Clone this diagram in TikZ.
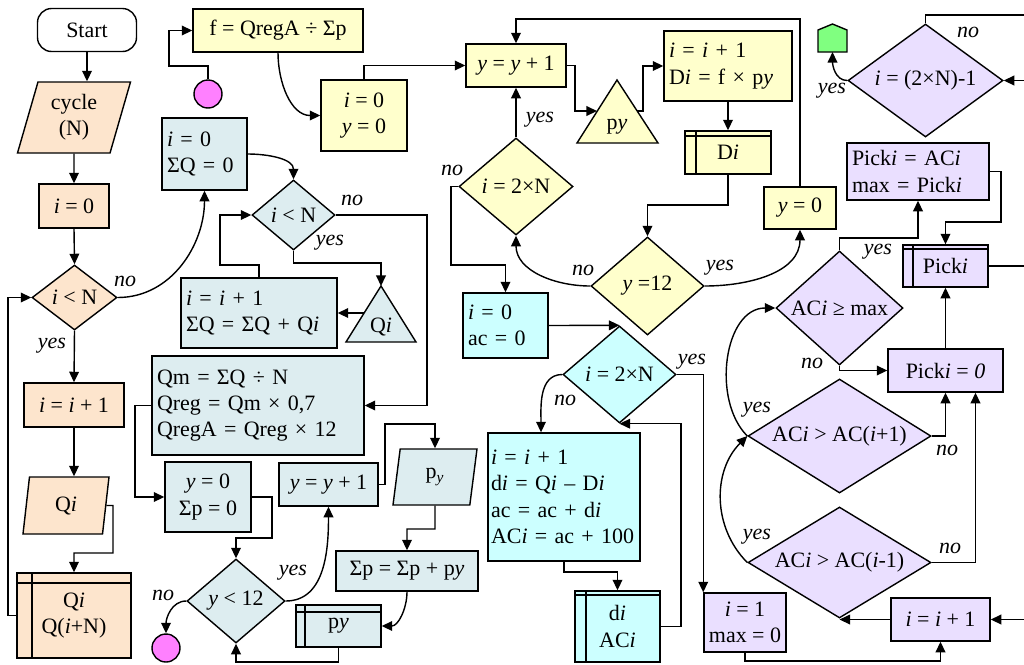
\documentclass[tikz,border=0pt]{standalone}
\usepackage{fontspec}
\setmainfont{Liberation Serif}
\usetikzlibrary{shapes.geometric,arrows.meta}
\definecolor{peach}{HTML}{FDE5CD}
\definecolor{bgray}{HTML}{DDEDF0}
\definecolor{ylw}{HTML}{FFFFCC}
\definecolor{cyn}{HTML}{CCFFFF}
\definecolor{lav}{HTML}{EADFFF}
\definecolor{pnk}{HTML}{FF80FF}
\definecolor{grn}{HTML}{80FF80}
\tikzset{
  blk/.style={draw, line width=0.8pt, inner sep=0.1cm, align=center, font={\fontsize{12.5}{15}\selectfont}},
  wh/.style 2 args={minimum width=#1*0.02cm, minimum height=#2*0.02cm},
  tw/.style={text width=#1*0.02cm, align=left},
  dec/.style={blk, diamond, aspect=1.5, inner sep=0pt},
  io/.style 2 args={blk, trapezium, trapezium left angle=#1, trapezium right angle=#2, trapezium stretches body},
  store/.style 2 args={blk, path picture={\draw[line width=0.8pt]
    ([xshift=#1]path picture bounding box.north west) -- ([xshift=#1]path picture bounding box.south west)
    ([yshift=-#2]path picture bounding box.north west) -- ([yshift=-#2]path picture bounding box.north east);}},
  stop/.style={circle, draw, fill=pnk, minimum size=0.56cm, inner sep=0pt, line width=0.8pt},
  arr/.style={-{Triangle[length=6pt,width=5.5pt]}, line width=0.8pt},
  lab/.style={inner sep=0pt, font={\fontsize{12.5}{15}\selectfont\itshape}}
}
\begin{document}
\begin{tikzpicture}[x=0.02cm, y=-0.02cm, line width=0.8pt]
\useasboundingbox (0,0) rectangle (1024,664);

\node[blk, rounded corners=8pt, wh={99}{43}] (start) at (87,30) {Start};
\node[io={70}{110}, fill=peach, wh={113}{71}] (cyc) at (74,117.5) {cycle\\(N)};
\node[blk, fill=peach, wh={70}{44}] (oi0) at (74,206) {\textit{i} = 0};
\node[dec, fill=peach, wh={85}{65}] (od) at (74.5,297.5) {\textit{i} < N};
\node[blk, fill=peach, wh={100}{44}] (oinc) at (74,405) {\textit{i} = \textit{i} + 1};
\node[io={77}{103}, fill=peach, wh={86}{57}] (oqi) at (66,505.5) {Q\textit{i}};
\node[store={0.3cm}{0.2cm}, fill=peach, wh={114}{85}] (ostore) at (74,615.5) {Q\textit{i}\\Q(\textit{i}+N)};

\node[blk, fill=bgray, wh={85}{72}, tw=75] (bi0) at (204.5,154) {\textit{i} = 0\\ΣQ = 0};
\node[dec, fill=bgray, wh={83}{70}] (bd) at (293.5,215) {\textit{i} < N};
\node[blk, fill=bgray, wh={156}{70}, tw=146] (binc) at (259,313) {\textit{i} = \textit{i} + 1\\ΣQ = ΣQ + Q\textit{i}};
\filldraw[fill=bgray] (381,286) coordinate (btop) -- (416,342) -- (346,342) -- cycle;
\coordinate (bleft) at (364,313);
\node[lab, font={\fontsize{12.5}{15}\selectfont}] (btxt) at (381,327) {Q\textit{i}};
\node[blk, fill=bgray, wh={212}{99}, tw=202] (bqm) at (258,405.5) {Qm = ΣQ ÷ N\\Qreg = Qm × 0,7\\QregA = Qreg × 12};
\node[blk, fill=bgray, wh={86}{70}] (by0) at (208,497) {\textit{y} = 0\\Σp = 0};
\node[dec, fill=bgray, wh={98}{84}] (bd2) at (236,601) {\textit{y} < 12};
\node[stop] (bend) at (166,648) {};
\node[blk, fill=bgray, wh={99}{43}] (byinc) at (328.5,484.5) {\textit{y} = \textit{y} + 1};
\node[io={75}{105}, fill=bgray, wh={84}{56}] (bpy) at (435,477) {p\textsubscript{\textit{y}}};
\node[blk, fill=bgray, wh={142}{40}] (bsum) at (407,571) {Σp = Σp + p\textit{y}};
\node[store={0.18cm}{0.14cm}, fill=bgray, wh={85}{42}] (bpys) at (338.5,626) {p\textit{y}};

\node[stop] (ybeg) at (208,94) {};
\node[blk, fill=ylw, wh={170}{43}] (yf) at (278,30.5) {f = QregA ÷ Σp};
\node[blk, fill=ylw, wh={86}{71}] (yi0) at (364,115.5) {\textit{i} = 0\\\textit{y} = 0};
\node[blk, fill=ylw, wh={100}{43}] (yyinc) at (516,65.5) {\textit{y} = \textit{y} + 1};
\filldraw[fill=ylw] (617,80) -- (658,143) -- (577,143) -- cycle;
\coordinate (ytl) at (597,111);
\coordinate (ytr) at (637,111);
\node[lab, font={\fontsize{12.5}{15}\selectfont}] (ytxt) at (617,127) {p\textit{y}};
\node[blk, fill=ylw, wh={128}{70}, tw=118] (yinc) at (728,66) {\textit{i} = \textit{i} + 1\\D\textit{i} = f × p\textit{y}};
\node[store={0.22cm}{0.1cm}, fill=ylw, wh={86}{43}] (yds) at (728,152.5) {D\textit{i}};
\node[dec, fill=ylw, wh={113}{98}] (yd12) at (647.5,286) {\textit{y} =12};
\node[blk, fill=ylw, wh={72}{42}] (yy0) at (800,208) {\textit{y} = 0};
\node[dec, fill=ylw, wh={114}{97}] (yd2n) at (516,186.5) {\textit{i} = 2×N};

\node[blk, fill=cyn, wh={85}{65}, tw=75] (ci0) at (505.5,325.5) {\textit{i} = 0\\ac = 0};
\node[dec, fill=cyn, wh={113}{97}] (cd) at (619.5,374.5) {\textit{i} = 2×N};
\node[blk, fill=cyn, inner xsep=0.06cm, wh={152}{128}, tw=146] (cinc) at (564,497) {\textit{i} = \textit{i} + 1\\d\textit{i} = Q\textit{i} – D\textit{i}\\ac = ac + d\textit{i}\\AC\textit{i} = ac + 100};
\node[store={0.22cm}{0.08cm}, fill=cyn, wh={85}{71}] (cst) at (617.5,626.5) {d\textit{i}\\AC\textit{i}};

\node[blk, fill=lav, wh={80}{59}] (li1) at (745,622.5) {\textit{i} = 1\\max = 0};
\node[blk, fill=lav, wh={99}{43}] (linc) at (940.5,619.5) {\textit{i} = \textit{i} + 1};
\node[dec, fill=lav, wh={183}{111}] (ld1) at (839.5,562.5) {AC\textit{i} > AC(\textit{i}-1)};
\node[dec, fill=lav, wh={183}{114}] (ld2) at (839.5,436) {AC\textit{i} > AC(\textit{i}+1)};
\node[blk, fill=lav, wh={115}{43}] (lp0) at (945.5,370.5) {Pick\textit{i} = \textit{0}};
\node[dec, fill=lav, wh={127}{114}] (ld3) at (839.5,308) {AC\textit{i} ≥ max};
\node[store={0.2cm}{0.08cm}, fill=lav, wh={85}{42}] (lps) at (945.5,266) {Pick\textit{i}};
\node[blk, fill=lav, wh={142}{57}, tw=132] (lpick) at (918,171.5) {Pick\textit{i} = AC\textit{i}\\max = Pick\textit{i}};
\node[dec, fill=lav, wh={155}{113}] (ld4) at (925.5,80.5) {\textit{i} = (2×N)-1};
\filldraw[fill=grn] (818,52) -- (818,30) -- (832.5,24) -- (847,30) -- (847,52) -- cycle;
\coordinate (gout) at (832.5,52);

\coordinate (e1) at (1024,15);
\coordinate (e2) at (1024,80.5);
\coordinate (e3) at (1024,266);
\coordinate (e4) at (1024,619.5);

\draw[arr] (start.south) -- (start.south |- cyc.north);
\draw[arr] (cyc.south) -- (oi0.north);
\draw[arr] (oi0.south) -- (od.north);
\draw[arr] (od.south) -- (oinc.north);
\draw[arr] (oinc.south) -- (oinc.south |- oqi.north);
\draw[arr] (oqi.east) -- (113,505.5) -- (113,553) -| (ostore.north);
\draw[arr] (ostore.west) -- (8,615.5) |- (od.west);
\draw[arr] (od.east) to[out=0,in=-90] (bi0.south);

\draw[arr] (bi0.east) to[out=0,in=90] (bd.north);
\draw[arr] (bd.east) -- (427,215) |- (bqm.east);
\draw[arr] (bd.south) -- (293.5,263) -| (btop);
\draw[arr] (bleft) -- (binc.east);
\draw[arr] (binc.north) -- (259,265) -| (220,215) -- (bd.west);
\draw[arr] (bqm.west) -- (135,405.5) |- (by0.west);
\draw[arr] (by0.east) -- (272,497) -- (272,538) -| (bd2.north);
\draw[arr] (bd2.west) to[out=180,in=90] (bend.north);
\draw[arr] (bd2.east) to[out=0,in=-90] (byinc.south);
\draw[arr] (byinc.east) -- (385,484.5) -- (385,424) -| (bpy.north);
\draw[arr] (bpy.south) -- (435,529) -| (bsum.north);
\draw[arr] (bsum.south) to[out=-90,in=0] (bpys.east);
\draw[arr] (bpys.south) -- (338.5,662) -| (bd2.south);

\draw[arr] (ybeg.north) -- (208,66) -| (169,30.5) -- (yf.west);
\draw[arr] (yf.south) to[out=-90,in=180] (yi0.west);
\draw[arr] (yi0.north) |- (yyinc.west);
\draw[arr] (yyinc.east) -- (575,65.5) |- (ytl);
\draw[arr] (ytr) -- (643,111) |- (yinc.west);
\draw[arr] (yinc.south) -- (yds.north);
\draw[arr] (yds.south) -- (728,205) -| (yd12.north);
\draw[arr] (yd12.west) to[out=180,in=-90] (yd2n.south);
\draw[arr] (yd12.east) to[out=0,in=-90] (yy0.south);
\draw[arr] (yy0.north) -- (800,19) -| (yyinc.north);
\draw[arr] (yd2n.north) -- (yyinc.south);
\draw[arr] (yd2n.west) -- (451,186.5) -- (451,265) -| (ci0.north);

\draw[arr] (ci0.east) -- (cd.north);
\draw[arr] (cd.east) -| (li1.north west);
\draw[arr] (cd.west) to[out=180,in=90] ([xshift=-0.46cm]cinc.north);
\draw[arr] (cinc.south) -- (564,572) -| (cst.north);
\draw[arr] (cst.east) -- (681,626.5) |- (cd.south);

\draw[arr] (li1.south) -- (745,661) -| (linc.south);
\draw[arr] (linc.west) -- (linc.west -| ld1.south);
\draw[arr] (e4) -- (linc.east);
\draw[arr] (ld1.west) to[out=135,in=-135] (ld2.west);
\draw[arr] (ld2.west) to[out=135,in=180] (ld3.west);
\draw[arr] (ld2.east) -| (lp0.south);
\draw[arr] (ld1.east) -| ([xshift=0.6cm]lp0.south);
\draw[arr] (ld3.south) |- (lp0.west);
\draw[arr] (lp0.north) -- (lps.south);
\draw[arr] (ld3.north) -- (839.5,238) -| (lpick.south);
\draw[arr] (lpick.east) -- (1001,171.5) -- (1001,222) -| (lps.north);
\draw (lps.east) -- (e3);
\draw (ld4.north) |- (e1);
\draw[arr] (e2) -- (ld4.east);
\draw[arr] (ld4.west) to[out=180,in=-90] (gout);

\node[lab] (n1) at (125,281) {no};
\node[lab] (n2) at (52,346) {yes};
\node[lab] (n3) at (352,200) {no};
\node[lab] (n4) at (330,243) {yes};
\node[lab] (n5) at (163,595) {no};
\node[lab] (n6) at (293,573) {yes};
\node[lab] (n7) at (540,120) {yes};
\node[lab] (n8) at (452,170) {no};
\node[lab] (n9) at (583,270) {no};
\node[lab] (n10) at (720,268) {yes};
\node[lab] (n11) at (692,362) {yes};
\node[lab] (n12) at (565,400) {no};
\node[lab] (n13) at (968,32) {no};
\node[lab] (n14) at (832,91) {yes};
\node[lab] (n15) at (878,252) {yes};
\node[lab] (n16) at (812,363) {no};
\node[lab] (n17) at (757,410) {yes};
\node[lab] (n18) at (947,450) {no};
\node[lab] (n19) at (757,537) {yes};
\node[lab] (n20) at (950,548) {no};
\end{tikzpicture}
\end{document}
